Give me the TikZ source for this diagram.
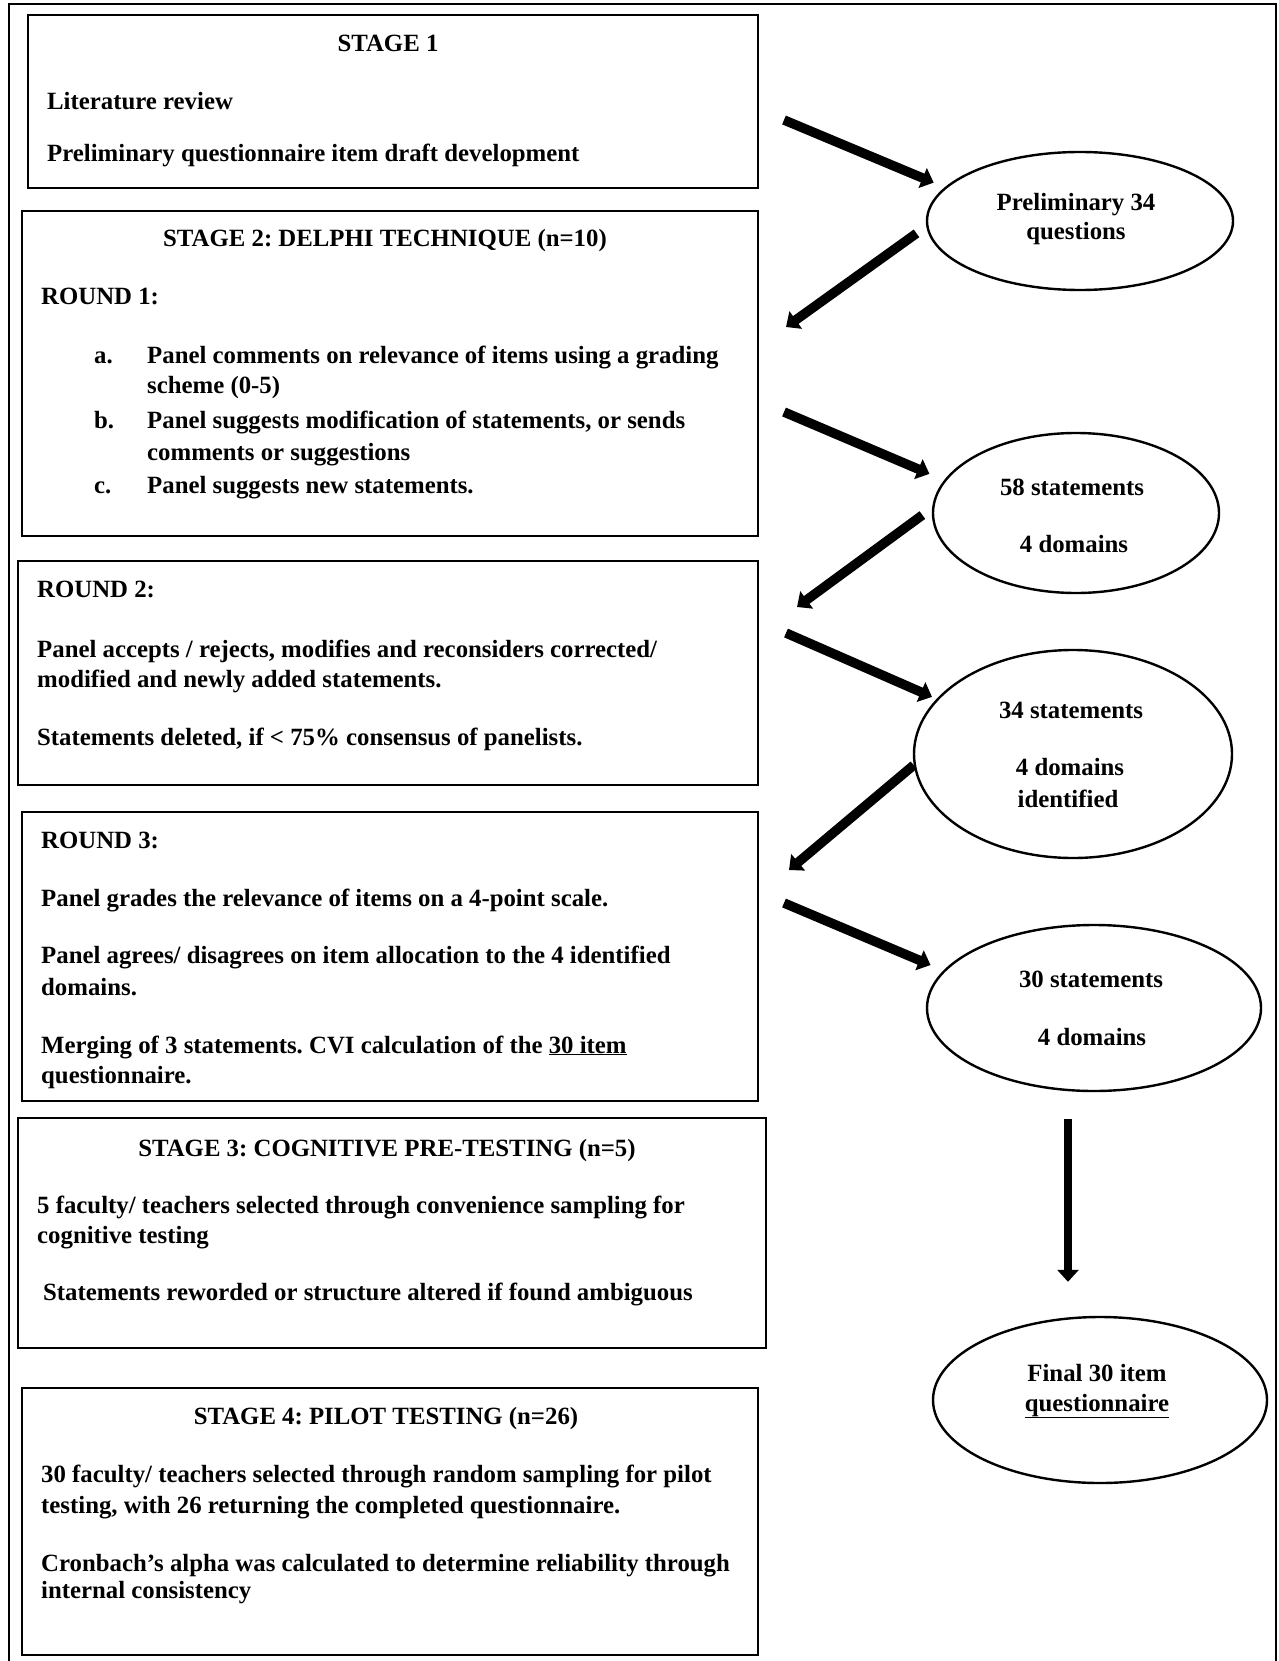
\documentclass[tikz,border=0pt]{standalone}
\usepackage{fontspec}
\setmainfont{Liberation Serif}
\usetikzlibrary{arrows.meta,shapes.geometric}
\frenchspacing
\begin{document}
\begin{tikzpicture}[x=1pt,y=-1pt,
  frame/.style={line width=2pt},
  box/.style={draw,line width=2.6pt},
  bub/.style={draw,ellipse,line width=2.4pt,inner sep=0pt},
  tx/.style={anchor=base west,inner sep=0pt,font=\bfseries\fontsize{24.8}{30}\selectfont},
  tc/.style={anchor=base,inner sep=0pt,font=\bfseries\fontsize{24.8}{30}\selectfont},
  flow/.style={line width=9.5pt,-{Triangle[length=12pt,width=21pt]}}
]
\useasboundingbox (0,0) rectangle (1278,1661);
\fill[white] (0,0) rectangle (1278,1661);
% outer frame
\draw[frame] (9,1665) -- (9,4) -- (1276,4) -- (1276,1665);

% boxes
\draw[box] (28,15) rectangle (758,188);
\draw[box] (22,211) rectangle (758,536);
\draw[box] (18,561) rectangle (758,785);
\draw[box] (22,812) rectangle (758,1101);
\draw[box] (18,1118) rectangle (766,1348);
\draw[box] (22,1388) rectangle (758,1655);

% ellipses
\node[bub,minimum width=306pt,minimum height=138pt] (e1) at (1080,221) {};
\node[bub,minimum width=286pt,minimum height=160pt] (e2) at (1076,513) {};
\node[bub,minimum width=318pt,minimum height=208pt] (e3) at (1073,754) {};
\node[bub,minimum width=334pt,minimum height=166pt] (e4) at (1094,1008) {};
\node[bub,minimum width=334pt,minimum height=166pt] (e5) at (1100,1400) {};

% stage 1
\node[tc] (s1t) at (388,52) {STAGE 1};
\node[tx] (s1a) at (47,110) {Literature review};
\node[tx] (s1b) at (47,162) {Preliminary questionnaire item draft development};

% stage 2
\node[tc] (s2t) at (385,247) {STAGE 2: DELPHI TECHNIQUE (n=10)};
\node[tx] (r1t) at (41,305) {ROUND 1:};
\node[tx] (r1a) at (94,363) {a.};
\node[tx] (r1a1) at (147,363) {Panel comments on relevance of items using a grading};
\node[tx] (r1a2) at (147,393) {scheme (0-5)};
\node[tx] (r1b) at (94,428) {b.};
\node[tx] (r1b1) at (147,428) {Panel suggests modification of statements, or sends};
\node[tx] (r1b2) at (147,460) {comments or suggestions};
\node[tx] (r1c) at (94,493) {c.};
\node[tx] (r1c1) at (147,493) {Panel suggests new statements.};

% round 2
\node[tx] (r2t) at (37,597) {ROUND 2:};
\node[tx] (r2a) at (37,657) {Panel accepts / rejects, modifies and reconsiders corrected/};
\node[tx] (r2b) at (37,687) {modified and newly added statements.};
\node[tx] (r2c) at (37,745) {Statements deleted, if < 75\% consensus of panelists.};

% round 3
\node[tx] (r3t) at (41,848) {ROUND 3:};
\node[tx] (r3a) at (41,906) {Panel grades the relevance of items on a 4-point scale.};
\node[tx] (r3b) at (41,963) {Panel agrees/ disagrees on item allocation to the 4 identified};
\node[tx] (r3c) at (41,995) {domains.};
\node[tx] (r3d) at (41,1053) {Merging of 3 statements. CVI calculation of the \underline{30 item}};
\node[tx] (r3e) at (41,1083) {questionnaire.};

% stage 3
\node[tc] (s3t) at (387,1156) {STAGE 3: COGNITIVE PRE-TESTING (n=5)};
\node[tx] (s3a) at (37,1213) {5 faculty/ teachers selected through convenience sampling for};
\node[tx] (s3b) at (37,1243) {cognitive testing};
\node[tx] (s3c) at (43,1300) {Statements reworded or structure altered if found ambiguous};

% stage 4
\node[tc] (s4t) at (386,1424) {STAGE 4: PILOT TESTING (n=26)};
\node[tx] (s4a) at (41,1482) {30 faculty/ teachers selected through random sampling for pilot};
\node[tx] (s4b) at (41,1513) {testing, with 26 returning the completed questionnaire.};
\node[tx] (s4c) at (41,1571) {Cronbach’s alpha was calculated to determine reliability through};
\node[tx] (s4d) at (41,1598) {internal consistency};

% ellipse texts
\node[tc] (e1a) at (1076,211) {Preliminary 34};
\node[tc] (e1b) at (1076,240) {questions};
\node[tc] (e2a) at (1072,495) {58 statements};
\node[tc] (e2b) at (1074,552) {4 domains};
\node[tc] (e3a) at (1071,718) {34 statements};
\node[tc] (e3b) at (1070,775) {4 domains};
\node[tc] (e3c) at (1068,807) {identified};
\node[tc] (e4a) at (1091,987) {30 statements};
\node[tc] (e4b) at (1092,1045) {4 domains};
\node[tc] (e5a) at (1097,1381) {Final 30 item};
\node[tc] (e5b) at (1097,1411) {\underline{questionnaire}};

% arrow free ends
\coordinate (c1) at (784,120);
\coordinate (c2) at (786,327);
\coordinate (c3) at (784,412);
\coordinate (c4) at (797,607);
\coordinate (c5) at (786,633);
\coordinate (c6) at (789,870);
\coordinate (c7) at (784,903);

\draw[flow,shorten >=12pt] (c1) -- (e1.166);
\draw[flow,shorten <=12pt] (e1.182) -- (c2);
\draw[flow,shorten >=16pt] (c3) -- (e2.166);
\draw[flow,shorten <=12pt] (e2.178) -- (c4);
\draw[flow,shorten >=5pt] (c5) -- (e3.158);
\draw[flow] (e3.184) -- (c6);
\draw[flow,shorten >=14pt] (c7) -- (e4.166);
\draw[flow,line width=8pt] ([xshift=-26pt,yshift=-27pt]e4.south) -- ([xshift=-32pt,yshift=34pt]e5.north);
\end{tikzpicture}
\end{document}
